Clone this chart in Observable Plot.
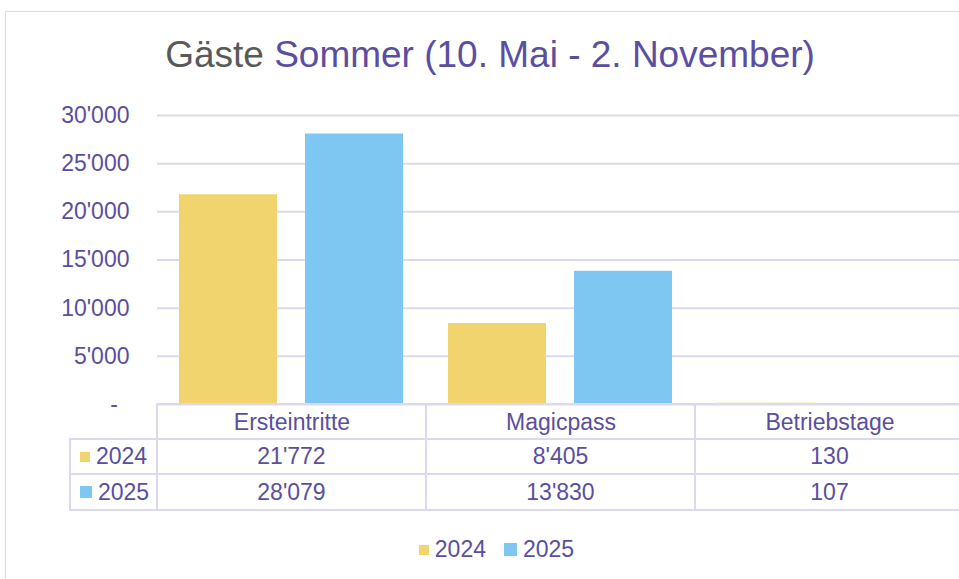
<!DOCTYPE html>
<html><head><meta charset="utf-8">
<script src="https://cdn.jsdelivr.net/npm/d3@7"></script>
<script src="https://cdn.jsdelivr.net/npm/@observablehq/plot@0.6"></script>
<style>
html,body{margin:0;padding:0;background:#fff;overflow:hidden;width:959px;height:579px;}
body{position:relative;font-family:"Liberation Sans",Arial,sans-serif;color:#5b4e9e;}
#frame{position:absolute;left:5px;top:11px;width:1000px;height:700px;border:1px solid #dcd9ee;box-sizing:border-box;}
#title{position:absolute;left:0;width:980px;top:36px;text-align:center;font-size:37px;line-height:37px;white-space:nowrap;}
#chart{position:absolute;left:0;top:0;width:970px;}
.ln{position:absolute;background:#dcd9ee;}
.cell{position:absolute;text-align:center;font-size:23px;white-space:nowrap;}
.yr{position:absolute;font-size:23px;display:flex;align-items:center;white-space:nowrap;}
.sw{display:inline-block;margin-right:6px;}
#legend{position:absolute;left:0;width:993px;top:532px;height:35px;display:flex;justify-content:center;align-items:center;font-size:23px;}
#legend .it{display:flex;align-items:center;margin:0 9px;}
</style>
</head><body>
<div id="frame"></div>
<div id="title"></div>
<div id="chart"></div>
<div id="table"></div>
<div id="legend"></div>
<script>
const categories = ["Ersteintritte", "Magicpass", "Betriebstage"];
const years = ["2024", "2025"];
const values2024 = [21772, 8405, 130];
const values2025 = [28079, 13830, 107];
const colors = ["#f2d46e", "#7fc7f3"];
const yTicks = [0, 5000, 10000, 15000, 20000, 25000, 30000];
const titleGray = "Gäste";
const titleRest = "Sommer (10. Mai - 2. November)";

const purple = "#5b4e9e";
const gridColor = "#dcd9ee";

const fmt = d3.formatLocale({decimal: ".", thousands: "'", grouping: [3], currency: ["", ""]}).format(",");

document.getElementById("title").innerHTML =
  `<span style="color:#595959">${titleGray}</span> <span style="color:${purple}">${titleRest}</span>`;

const data = categories.flatMap((c, i) => [
  {cat: c, year: years[0], value: values2024[i]},
  {cat: c, year: years[1], value: values2025[i]}
]);

const chart = Plot.plot({
  width: 970, height: 440,
  marginTop: 115, marginBottom: 36, marginLeft: 157, marginRight: 6,
  style: {fontFamily: '"Liberation Sans", Arial, sans-serif', fontSize: "23px", color: purple, background: "transparent", overflow: "visible", maxWidth: "none"},
  fx: {domain: categories, padding: 0, axis: "bottom", tickSize: 0, tickPadding: 9, label: null},
  x: {domain: years, paddingInner: 0.221, paddingOuter: 0.174, axis: null},
  y: {domain: [yTicks[0], yTicks[yTicks.length - 1]], ticks: yTicks.length - 1, tickSize: 0, tickPadding: 28, label: null,
      tickFormat: d => d === 0 ? "-\u2002" : fmt(d)},
  color: {domain: years, range: colors},
  marks: [
    Plot.ruleY(yTicks, {stroke: gridColor, strokeWidth: 2}),
    Plot.barY(data, {fx: "cat", x: "year", y: "value", fill: "year"})
  ]
});
chart.style.maxWidth = "none";
chart.setAttribute("width", 970);
chart.setAttribute("height", 440);
document.getElementById("chart").appendChild(chart);

// Table below the chart, columns aligned to the fx scale
const fx = chart.scale("fx");
const [r0, r1] = fx.range;
const step = (r1 - r0) / categories.length;
const colEdges = d3.range(categories.length + 1).map(i => r0 + i * step);
const y0 = chart.scale("y").range[0];
const rowTops = [y0, y0 + 35, y0 + 70, y0 + 106];
const leftEdge = 70;
const tbl = document.getElementById("table");
function line(x, y, w, h) {
  const d = document.createElement("div");
  d.className = "ln";
  d.style.left = x + "px"; d.style.top = y + "px"; d.style.width = w + "px"; d.style.height = h + "px";
  tbl.appendChild(d);
}
line(r0 - 1, rowTops[0] - 1, r1 - r0 + 2, 2);
for (let k = 1; k < rowTops.length; k++) line(leftEdge - 1, rowTops[k] - 1, r1 - leftEdge + 2, 2);
line(leftEdge - 1, rowTops[1] - 1, 2, rowTops[3] - rowTops[1] + 1);
colEdges.forEach(x => line(x - 1, rowTops[0] - 1, 2, rowTops[3] - rowTops[0] + 1));

const rows = [values2024, values2025];
const swSizes = [10, 12];
rows.forEach((vals, r) => {
  const top = rowTops[r + 1], h = rowTops[r + 2] - rowTops[r + 1];
  const yc = document.createElement("div");
  yc.className = "yr";
  yc.style.left = (leftEdge + 10) + "px"; yc.style.top = top + "px"; yc.style.height = h + "px";
  yc.innerHTML = `<span class="sw" style="width:${swSizes[r]}px;height:${swSizes[r]}px;background:${colors[r]}"></span>${years[r]}`;
  tbl.appendChild(yc);
  vals.forEach((v, i) => {
    const c = document.createElement("div");
    c.className = "cell";
    c.style.left = colEdges[i] + "px"; c.style.width = step + "px";
    c.style.top = top + "px"; c.style.height = h + "px"; c.style.lineHeight = h + "px";
    c.textContent = fmt(v);
    tbl.appendChild(c);
  });
});

// Legend
const lg = document.getElementById("legend");
const lgSizes = [10, 13];
years.forEach((y, i) => {
  const it = document.createElement("div");
  it.className = "it";
  it.innerHTML = `<span class="sw" style="width:${lgSizes[i]}px;height:${lgSizes[i]}px;background:${colors[i]}"></span>${y}`;
  lg.appendChild(it);
});
</script>
</body></html>
